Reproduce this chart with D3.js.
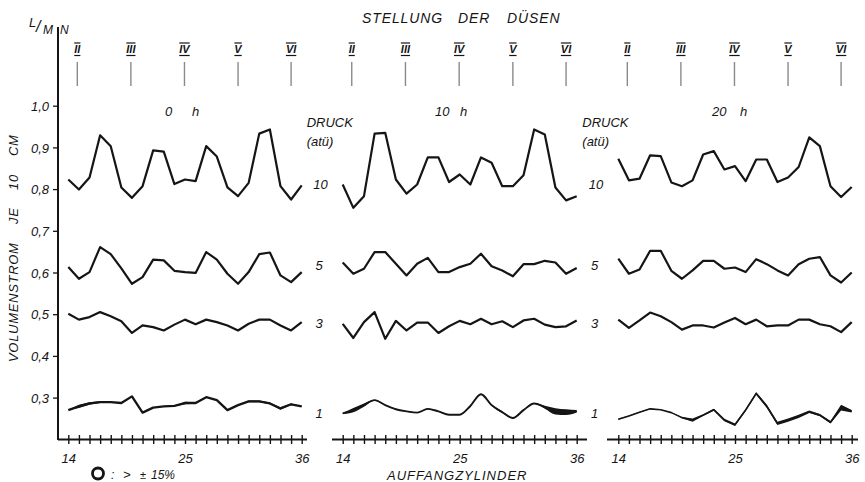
<!DOCTYPE html>
<html><head><meta charset="utf-8">
<script src="https://cdn.jsdelivr.net/npm/d3@7"></script>
<style>
body{margin:0;background:#fff}
svg{display:block}
text{font-family:"Liberation Sans",Arial,sans-serif;font-style:italic;fill:#151515}
</style>
</head><body>
<svg id="c" width="865" height="482"></svg>
<script>
// ---------- data ----------
const cylinders = [14,15,16,17,18,19,20,21,22,23,24,25,26,27,28,29,30,31,32,33,34,35,36];
const xTickLabels = [14,25,36];
const yTicks = [0.3,0.4,0.5,0.6,0.7,0.8,0.9,1.0];
const yTickLabels = ["0,3","0,4","0,5","0,6","0,7","0,8","0,9","1,0"];
const nozzleNames = ["II","III","IV","V","VI"];
const nozzlePos = [14.85,19.9,24.95,30.0,35.0];
const pressures = ["10","5","3","1"];
const hours = ["0","10","20"];

// 0 h
const h0_p10 = [0.823,0.799,0.828,0.929,0.903,0.804,0.779,0.807,0.893,0.890,0.812,0.823,0.819,0.903,0.878,0.804,0.783,0.815,0.933,0.943,0.807,0.775,0.809];
const h0_p5  = [0.613,0.585,0.601,0.661,0.644,0.610,0.573,0.589,0.631,0.629,0.604,0.601,0.599,0.649,0.631,0.597,0.573,0.601,0.644,0.648,0.593,0.577,0.601];
const h0_p3  = [0.501,0.487,0.493,0.505,0.495,0.483,0.455,0.473,0.469,0.461,0.475,0.487,0.476,0.487,0.481,0.473,0.461,0.477,0.487,0.487,0.473,0.461,0.481];
const h0_p1  = [0.270,0.279,0.286,0.289,0.289,0.287,0.303,0.264,0.276,0.279,0.280,0.287,0.287,0.301,0.294,0.270,0.282,0.291,0.291,0.286,0.274,0.284,0.279];
const h0_dev = [0,0.004,0.003,0.002,0.001,0.001,0,0,0.001,0.001,0.001,0.003,0.002,0.001,0.001,0,0.001,0.002,0.002,0.002,0.003,0.002,0.001];

// 10 h
const h10_p10 = [0.811,0.755,0.783,0.933,0.935,0.823,0.789,0.811,0.876,0.876,0.817,0.835,0.811,0.876,0.863,0.807,0.807,0.833,0.943,0.931,0.804,0.773,0.783];
const h10_p5  = [0.624,0.597,0.609,0.649,0.649,0.621,0.593,0.621,0.635,0.601,0.601,0.613,0.621,0.645,0.615,0.605,0.591,0.620,0.620,0.628,0.624,0.597,0.611];
const h10_p3  = [0.477,0.443,0.481,0.505,0.441,0.484,0.461,0.480,0.480,0.455,0.471,0.484,0.476,0.489,0.476,0.483,0.469,0.485,0.489,0.475,0.469,0.471,0.485];
const h10_p1  = [0.262,0.270,0.282,0.294,0.282,0.272,0.267,0.264,0.273,0.267,0.259,0.259,0.280,0.308,0.282,0.265,0.251,0.270,0.286,0.277,0.267,0.265,0.267];
const h10_dev = [0.001,0.005,0.004,0.001,0.001,0.001,0.001,0.001,0.001,0.001,0.001,0.001,0.001,0.0015,0.002,0.002,0.001,0.0015,0.001,0.0035,0.0075,0.0068,0.003];

// 20 h
const h20_p10 = [0.873,0.821,0.825,0.881,0.879,0.816,0.807,0.821,0.883,0.891,0.847,0.855,0.819,0.871,0.871,0.817,0.828,0.853,0.924,0.903,0.807,0.781,0.805];
const h20_p5  = [0.633,0.597,0.607,0.652,0.652,0.604,0.585,0.605,0.628,0.628,0.609,0.612,0.601,0.632,0.620,0.605,0.593,0.620,0.633,0.637,0.593,0.576,0.600];
const h20_p3  = [0.487,0.467,0.485,0.504,0.495,0.481,0.463,0.473,0.473,0.468,0.480,0.491,0.476,0.487,0.471,0.473,0.473,0.487,0.487,0.476,0.471,0.457,0.481];
const h20_p1  = [0.248,0.256,0.265,0.273,0.271,0.264,0.252,0.246,0.258,0.271,0.246,0.235,0.270,0.310,0.279,0.238,0.246,0.255,0.266,0.258,0.241,0.276,0.267];
const h20_dev = [0.001,0.001,0.001,0.001,0.0005,0,0.0015,0.004,0.002,0.0025,0.003,0.003,0.003,0.003,0.004,0.004,0.004,0.004,0.003,0.0025,0.003,0.007,0.003];

// ---------- layout ----------
const svg = d3.select("#c");
const INK = "#151515";
const y = d3.scaleLinear().domain([0.2, 1.0]).range([439.3, 105.7]);

const panels = [
  {series:[h0_p10,h0_p5,h0_p3,h0_p1], dev:h0_dev, r:[68.3,301.7], ax:[58,307], hx:[165,192], labels:false, curve:d3.curveLinear, w:2.3},
  {series:[h10_p10,h10_p5,h10_p3,h10_p1], dev:h10_dev, r:[342.7,576.7], ax:[332,587], hx:[435,460], labels:true, curve:d3.curveMonotoneX, w:1.9},
  {series:[h20_p10,h20_p5,h20_p3,h20_p1], dev:h20_dev, r:[618.3,851.7], ax:[607,858], hx:[712,740], labels:true, curve:d3.curveLinear, w:1.6}
];
const labelBaseY = [189, 270, 328, 418];
const labelEndDx = [-15, -20, -20, -20];

// Y axis
svg.append("line").attr("x1",58).attr("x2",58).attr("y1",27).attr("y2",440)
  .attr("stroke",INK).attr("stroke-width",2);
const yAx = svg.append("g").attr("transform","translate(58,0)")
  .call(d3.axisLeft(y).tickValues(yTicks).tickSize(5).tickPadding(4)
        .tickFormat((d,i)=>yTickLabels[i]));
yAx.select(".domain").remove();
yAx.selectAll("line").attr("stroke",INK).attr("stroke-width",1.3);
yAx.selectAll("text").attr("font-size",13).attr("font-family",null).attr("fill",INK).attr("dy","0.36em");

// L/MIN
svg.append("text").attr("x",29).attr("y",27).attr("font-size",13).text("L");
svg.append("text").attr("x",36).attr("y",32).attr("font-size",16).text("/");
svg.append("text").attr("x",43).attr("y",34).attr("font-size",12).text("M");
svg.append("text").attr("x",60).attr("y",34).attr("font-size",12).text("N");

// Y title
const yTitleWords = [["VOLUMENSTROM",362],["JE",224],["10",190],["CM",156]];
yTitleWords.forEach(([w,yy])=>{
  svg.append("text").attr("transform",`translate(18,${yy}) rotate(-90)`)
    .attr("font-size",13).attr("letter-spacing",0.7).text(w);
});

// title
[["STELLUNG",362],["DER",458],["DÜSEN",507]].forEach(([w,xx])=>{
  svg.append("text").attr("x",xx).attr("y",23).attr("font-size",14).attr("letter-spacing",0.9).text(w);
});

panels.forEach((p,pi)=>{
  const x = d3.scaleLinear().domain([14,36]).range(p.r);
  const g = svg.append("g");

  // x axis
  g.append("line").attr("x1",p.ax[0]).attr("x2",p.ax[1]).attr("y1",439.5).attr("y2",439.5)
    .attr("stroke",INK).attr("stroke-width",2);
  const xa = g.append("g").attr("transform","translate(0,439.5)")
    .call(d3.axisBottom(x).tickValues(cylinders).tickSize(4.5).tickPadding(10)
          .tickFormat(d=>xTickLabels.includes(d)?String(d):""));
  xa.select(".domain").remove();
  xa.selectAll("line").attr("y1",-4.5).attr("y2",4.5).attr("stroke",INK).attr("stroke-width",1.4);
  xa.selectAll("text").attr("font-size",13).attr("font-family",null).attr("fill",INK);

  // nozzles
  nozzleNames.forEach((n,i)=>{
    const cx = x(nozzlePos[i]);
    const t = g.append("text").attr("x",cx).attr("y",53).attr("text-anchor","middle")
      .attr("font-size",11).attr("font-weight","bold").text(n);
    const w = t.node().getComputedTextLength();
    g.append("line").attr("x1",cx-w/2).attr("x2",cx+w/2).attr("y1",43).attr("y2",43)
      .attr("stroke",INK).attr("stroke-width",1.2);
    g.append("line").attr("x1",cx-w/2).attr("x2",cx+w/2).attr("y1",55.5).attr("y2",55.5)
      .attr("stroke",INK).attr("stroke-width",1.2);
    g.append("line").attr("x1",cx).attr("x2",cx).attr("y1",62).attr("y2",86)
      .attr("stroke","#8a8a8a").attr("stroke-width",1.4);
  });

  // hour label
  g.append("text").attr("x",p.hx[0]).attr("y",116).attr("font-size",13).text(hours[pi]);
  g.append("text").attr("x",p.hx[1]).attr("y",116).attr("font-size",13).text("h");

  // pressure labels
  if (p.labels){
    g.append("text").attr("x",p.r[0]-36).attr("y",127).attr("font-size",13).text("DRUCK");
    g.append("text").attr("x",p.r[0]-36).attr("y",146).attr("font-size",13).text("(atü)");
    pressures.forEach((pr,i)=>{
      g.append("text").attr("x",p.r[0]+labelEndDx[i]).attr("y",labelBaseY[i])
        .attr("text-anchor","end").attr("font-size",13).text(pr);
    });
  }

  // series lines
  const line = d3.line().x((d,i)=>x(cylinders[i])).y(d=>y(d));
  p.series.slice(0,3).forEach(s=>{
    g.append("path").attr("d",line(s)).attr("fill","none").attr("stroke",INK)
      .attr("stroke-width",2.2).attr("stroke-linejoin","round");
  });
  // 1 atü with deviation band
  const s1 = p.series[3];
  const area = d3.area().curve(p.curve).x((d,i)=>x(cylinders[i]))
    .y0((d,i)=>y(d - p.dev[i])).y1((d,i)=>y(d + p.dev[i]));
  g.append("path").attr("d",area(s1)).attr("fill",INK).attr("stroke","none");
  g.append("path").attr("d",line.curve(p.curve)(s1)).attr("fill","none").attr("stroke",INK)
    .attr("stroke-width",p.w).attr("stroke-linejoin","round");
});

// bottom labels
svg.append("text").attr("x",387).attr("y",480).attr("font-size",13).attr("letter-spacing",1).text("AUFFANGZYLINDER");
svg.append("circle").attr("cx",98).attr("cy",473.5).attr("r",5.5).attr("fill","none")
  .attr("stroke",INK).attr("stroke-width",2.8);
svg.append("text").attr("x",111).attr("y",479).attr("font-size",12).text(":");
svg.append("text").attr("x",123).attr("y",479).attr("font-size",13).text(">");
svg.append("text").attr("x",140).attr("y",479).attr("font-size",11).text("±");
svg.append("text").attr("x",151).attr("y",479).attr("font-size",12).text("15%");
</script>
</body></html>
